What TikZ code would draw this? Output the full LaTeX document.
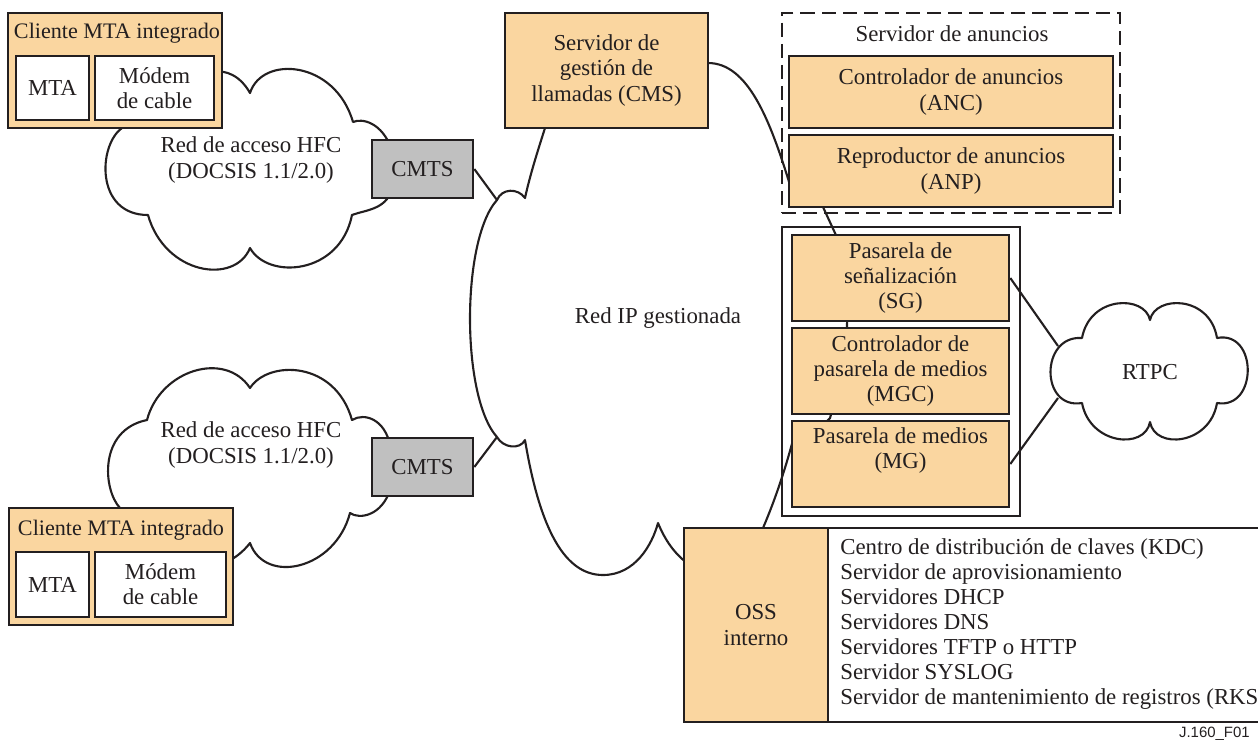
\documentclass[tikz,border=0pt]{standalone}
\usepackage{fontspec}
\setmainfont{Liberation Serif}
\newfontfamily\tagfont{Liberation Sans}
\definecolor{ink}{RGB}{35,31,32}
\definecolor{panel}{RGB}{250,214,160}
\definecolor{cmtsgray}{RGB}{192,192,192}
\begin{document}
\begin{tikzpicture}[x=0.02cm, y=-0.02cm,
  every node/.style={font=\fontsize{13}{14.3}\selectfont, inner sep=0pt, text=ink},
  box/.style={draw=ink, line width=1.5pt, fill=panel, align=center},
  whitebox/.style={draw=ink, line width=1.5pt, fill=white, align=center},
  graybox/.style={draw=ink, line width=1.5pt, fill=cmtsgray, align=center},
  frame/.style={draw=ink, line width=1.3pt},
  dashframe/.style={draw=ink, line width=1.3pt, dash pattern=on 8pt off 4pt},
  cloudline/.style={draw=ink, line width=1.2pt, line join=round},
  link/.style={draw=ink, line width=1.2pt},
  titletext/.style={font=\fontsize{12.6}{14.3}\selectfont},
]
\useasboundingbox (0,0) rectangle (1258,745);
\clip (0,0) rectangle (1258,745);

% ---- HFC access network, upper
\draw[cloudline, fill=white] (122,128) .. controls (98,145) and (95,215) .. (148,215)
  .. controls (165,275) and (235,285) .. (250,248)
  .. controls (268,280) and (340,275) .. (352,215)
  .. controls (365,210) and (385,210) .. (392,190)
  -- (392,150)
  .. controls (382,122) and (362,118) .. (353,122)
  .. controls (335,60) and (262,55) .. (250,93)
  .. controls (240,75) and (225,70) .. (215,72)
  -- cycle;
\node[align=center] (hfcAtext) at (251,160) {Red de acceso HFC\\(DOCSIS 1.1/2.0)};

% ---- HFC access network, lower
\draw[cloudline, fill=white] (120,508) .. controls (103,490) and (98,430) .. (147,420)
  .. controls (160,370) and (225,350) .. (250,388)
  .. controls (268,360) and (335,360) .. (352,420)
  .. controls (365,412) and (385,420) .. (390,445)
  -- (390,490)
  .. controls (382,515) and (360,520) .. (350,513)
  .. controls (335,570) and (265,585) .. (250,543)
  .. controls (240,556) and (225,565) .. (215,565)
  -- cycle;
\node[align=center] (hfcBtext) at (251,445) {Red de acceso HFC\\(DOCSIS 1.1/2.0)};

% ---- managed IP network
\draw[cloudline] (545,128) .. controls (538,150) and (530,175) .. (525,198)
  .. controls (518,188) and (502,188) .. (497,200)
  .. controls (461,240) and (461,397) .. (497,437)
  .. controls (503,448) and (520,450) .. (525,440)
  .. controls (540,530) and (565,575) .. (603,575)
  .. controls (635,575) and (652,545) .. (658,523)
  .. controls (665,540) and (675,555) .. (690,565)
  -- (763,528)
  .. controls (775,500) and (785,470) .. (793,440)
  .. controls (800,430) and (820,430) .. (830,418)
  .. controls (835,400) and (846,370) .. (847,325)
  .. controls (848,290) and (845,255) .. (835,233)
  -- (823,207)
  .. controls (815,195) and (805,195) .. (790,185)
  .. controls (770,120) and (748,63) .. (708,63)
  -- (700,63) -- cycle;
\node (iptext) at (658,318) {Red IP gestionada};
\coordinate (ipA) at (497,200);
\coordinate (ipB) at (497,437);

% ---- PSTN
\draw[cloudline, fill=white] (1082,338) .. controls (1040,335) and (1040,410) .. (1082,403)
  .. controls (1090,445) and (1145,450) .. (1150,422)
  .. controls (1155,450) and (1210,445) .. (1217,403)
  .. controls (1258,410) and (1258,330) .. (1217,338)
  .. controls (1210,295) and (1155,295) .. (1150,320)
  .. controls (1145,295) and (1090,295) .. (1082,338) -- cycle;
\node (rtpc) at (1150,372) {RTPC};
\coordinate (rtpcA) at (1058,346);
\coordinate (rtpcB) at (1058,398);

% ---- integrated MTA clients
\node[box, minimum width=4.28cm, minimum height=2.30cm] (cliA) at (115,70.5) {};
\node[titletext] (cliAtitle) at (117,33) {Cliente MTA integrado};
\node[whitebox, minimum width=1.46cm, minimum height=1.28cm] (mtaA) at (52.5,88) {MTA};
\node[whitebox, minimum width=2.38cm, minimum height=1.28cm] (modA) at (154.5,88) {Módem\\de cable};

\node[box, minimum width=4.48cm, minimum height=2.34cm] (cliB) at (121,566.5) {};
\node[titletext] (cliBtitle) at (121,530) {Cliente MTA integrado};
\node[whitebox, minimum width=1.46cm, minimum height=1.30cm] (mtaB) at (52.5,584.5) {MTA};
\node[whitebox, minimum width=2.62cm, minimum height=1.30cm] (modB) at (160.5,584.5) {Módem\\de cable};

% ---- CMTS
\node[graybox, minimum width=2.02cm, minimum height=1.16cm] (cmtsA) at (422.5,169) {CMTS};
\node[graybox, minimum width=2.02cm, minimum height=1.16cm] (cmtsB) at (422.5,467) {CMTS};

% ---- call management server
\node[box, minimum width=4.06cm, minimum height=2.30cm] (cms) at (606.5,70.5)
  {Servidor de\\gestión de\\llamadas (CMS)};

% ---- announcement server
\node[dashframe, minimum width=6.76cm, minimum height=4.00cm] (annframe) at (951,113) {};
\node (anntitle) at (952,34) {Servidor de anuncios};
\node[box, minimum width=6.48cm, minimum height=1.44cm] (anc) at (951,92)
  {Controlador de anuncios\\(ANC)};
\node[box, minimum width=6.48cm, minimum height=1.44cm] (anp) at (951,171)
  {Reproductor de anuncios\\(ANP)};

% ---- PSTN gateways
\node[frame, minimum width=4.76cm, minimum height=5.78cm] (gwframe) at (901,371.5) {};
\node[box, minimum width=4.34cm, minimum height=1.72cm] (sg) at (900.5,278)
  {Pasarela de\\señalización\\(SG)};
\node[box, minimum width=4.34cm, minimum height=1.72cm] (mgc) at (900.5,371)
  {Controlador de\\pasarela de medios\\(MGC)};
\node[box, minimum width=4.34cm, minimum height=1.72cm] (mg) at (900.5,464) {};
\node[align=center] (mgtext) at (900.5,450.5) {Pasarela de medios\\(MG)};

% ---- back office
\node[whitebox, minimum width=9.24cm, minimum height=3.88cm] (osslist) at (1059,625) {};
\node[box, minimum width=2.88cm, minimum height=3.88cm] (oss) at (756,625) {OSS\\interno};
\node[align=left, anchor=west] (ossitems) at (840,624)
  {Centro de distribución de claves (KDC)\\
   Servidor de aprovisionamiento\\
   Servidores DHCP\\
   Servidores DNS\\
   Servidores TFTP o HTTP\\
   Servidor SYSLOG\\
   Servidor de mantenimiento de registros (RKS)};

% ---- links
\draw[link] (cmtsA.east) -- (ipA);
\draw[link] (cmtsB.east) -- (ipB);
\draw[link] (sg.east) -- (rtpcA);
\draw[link] (mg.east) -- (rtpcB);

\node[anchor=east, font=\tagfont\fontsize{8.5}{10}\selectfont] (figtag) at (1250,734) {J.160\_F01};
\end{tikzpicture}
\end{document}
